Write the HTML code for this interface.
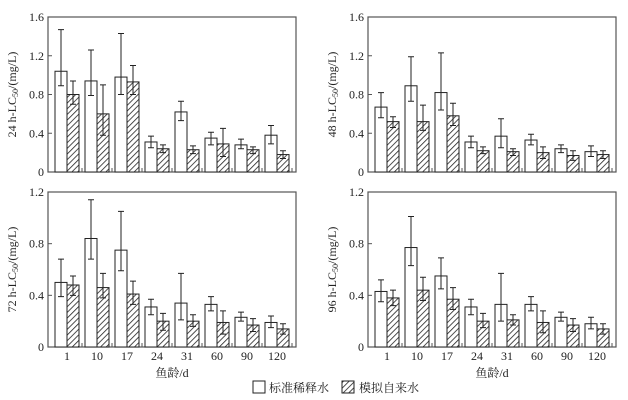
<!DOCTYPE html><html><head><meta charset="utf-8"><style>body{margin:0;background:#fff}svg{display:block}svg text{font-family:"Liberation Serif","Times New Roman","Noto Serif CJK SC",serif;fill:#222}</style></head><body>
<svg id="s" width="628" height="400" xmlns="http://www.w3.org/2000/svg" font-family="Liberation Serif, Noto Serif CJK SC, serif">
<defs><pattern id="h" width="4" height="4" patternUnits="userSpaceOnUse" patternTransform="rotate(45)"><rect width="4" height="4" fill="#fff"/><line x1="0" y1="0" x2="0" y2="4" stroke="#222" stroke-width="1.6"/></pattern></defs>
</svg>
<script>
var s=document.getElementById('s'),o='';
var P=[
{x:48,t:17,b:172,m:1.6,ticks:[0,0.4,0.8,1.2,1.6],lab:'24',
w:[[1.04,.89,1.47],[.94,.79,1.26],[.98,.80,1.43],[.31,.25,.37],[.62,.53,.73],[.35,.28,.41],[.28,.24,.34],[.38,.29,.48]],
h:[[.80,.70,.94],[.60,.38,.90],[.93,.80,1.10],[.24,.20,.28],[.23,.19,.27],[.29,.16,.45],[.23,.19,.26],[.18,.14,.22]]},
{x:368,t:17,b:172,m:1.6,ticks:[0,0.4,0.8,1.2,1.6],lab:'48',
w:[[.67,.56,.82],[.89,.73,1.19],[.82,.64,1.23],[.31,.25,.37],[.37,.25,.55],[.33,.28,.39],[.24,.20,.28],[.21,.16,.27]],
h:[[.52,.46,.57],[.52,.43,.69],[.58,.48,.71],[.22,.19,.26],[.21,.17,.24],[.20,.14,.26],[.17,.12,.22],[.18,.14,.22]]},
{x:48,t:192,b:347,m:1.2,ticks:[0,0.4,0.8,1.2],lab:'72',
w:[[.50,.39,.68],[.84,.68,1.14],[.75,.59,1.05],[.31,.25,.37],[.34,.21,.57],[.33,.28,.39],[.23,.20,.27],[.19,.15,.24]],
h:[[.48,.40,.55],[.46,.38,.57],[.41,.33,.51],[.20,.13,.26],[.20,.16,.25],[.19,.10,.28],[.17,.12,.22],[.14,.10,.18]]},
{x:368,t:192,b:347,m:1.2,ticks:[0,0.4,0.8,1.2],lab:'96',
w:[[.43,.35,.52],[.77,.63,1.01],[.55,.45,.69],[.31,.25,.37],[.33,.20,.57],[.33,.28,.39],[.23,.20,.27],[.18,.14,.23]],
h:[[.38,.32,.44],[.44,.36,.54],[.37,.29,.46],[.20,.15,.26],[.21,.17,.25],[.19,.11,.28],[.17,.12,.22],[.14,.10,.18]]}];
var xl=['1','10','17','24','31','60','90','120'];
P.forEach(function(p,pi){
 var W=248,H=p.b-p.t,Y=function(v){return p.b-v/p.m*H;};
 o+='<rect x="'+p.x+'" y="'+p.t+'" width="'+W+'" height="'+H+'" fill="none" stroke="#555" stroke-width="1.2"/>';
 p.ticks.forEach(function(v){var y=Y(v);o+='<line x1="'+p.x+'" x2="'+(p.x+4)+'" y1="'+y+'" y2="'+y+'" stroke="#555"/>';
  o+='<text x="'+(p.x-4)+'" y="'+(y+4)+'" font-size="12" text-anchor="end">'+(v==0?'0':v.toFixed(1))+'</text>';});
 for(var i=0;i<8;i++){var c=p.x+19+30*i;
  o+='<line x1="'+(c+15)+'" x2="'+(c+15)+'" y1="'+p.b+'" y2="'+(p.b-4)+'" stroke="#555"/>';
  [[p.w[i],c-12,'#fff'],[p.h[i],c,'url(#h)']].forEach(function(d){var v=d[0],x=d[1];
   o+='<rect x="'+x+'" y="'+Y(v[0])+'" width="12" height="'+(p.b-Y(v[0]))+'" fill="'+d[2]+'" stroke="#222" stroke-width="1"/>';
   var m=x+6;o+='<path d="M'+m+' '+Y(v[1])+'V'+Y(v[2])+'M'+(m-3)+' '+Y(v[1])+'h6M'+(m-3)+' '+Y(v[2])+'h6" stroke="#222" stroke-width="1" fill="none"/>';});
  if(pi>=2)o+='<text x="'+c+'" y="'+(p.b+13)+'" font-size="12" text-anchor="middle">'+xl[i]+'</text>';
 }
 var cy=(p.t+p.b)/2,tx=p.x-32;
 o+='<text transform="translate('+tx+','+cy+') rotate(-90)" font-size="12" text-anchor="middle">'+p.lab+' h-LC<tspan font-size="8" dy="2">50</tspan><tspan dy="-2">/(mg/L)</tspan></text>';
 if(pi>=2)o+='<text x="'+(p.x+124)+'" y="377" font-size="12" text-anchor="middle">鱼龄/d</text>';
});
o+='<rect x="253" y="381" width="12" height="12" fill="#fff" stroke="#222"/><text x="269" y="392" font-size="12">标准稀释水</text>';
o+='<rect x="342" y="381" width="12" height="12" fill="url(#h)" stroke="#222"/><text x="359" y="392" font-size="12">模拟自来水</text>';
s.insertAdjacentHTML('beforeend',o);
</script></body></html>
